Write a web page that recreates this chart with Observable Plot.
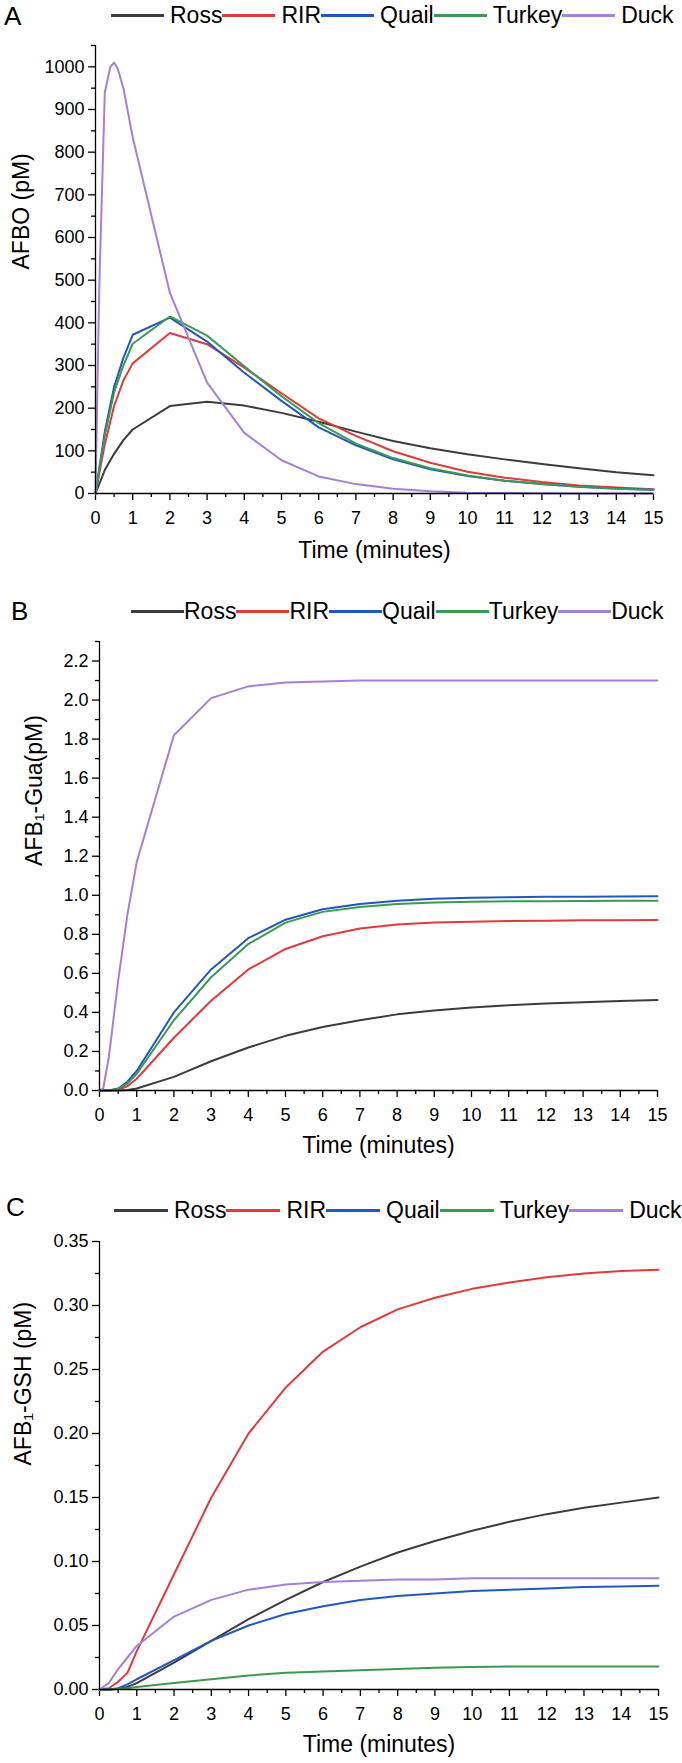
<!DOCTYPE html>
<html><head><meta charset="utf-8">
<script src="https://cdn.jsdelivr.net/npm/d3@7"></script>
<script src="https://cdn.jsdelivr.net/npm/@observablehq/plot@0.6"></script>
<style>
body{margin:0;background:#fff;font-family:"Liberation Sans",Arial,sans-serif;color:#000;}
#root{position:relative;width:682px;height:1763px;overflow:hidden;background:#fff;}
.panel{position:absolute;left:0;}
.letter{position:absolute;font-size:26px;line-height:1;}
.legend{position:absolute;display:flex;align-items:center;height:23px;font-size:23px;line-height:1;white-space:nowrap;}
.legend .sw{display:inline-block;height:2.2px;}
</style></head><body><div id="root"></div>
<script>
const series = ["Ross", "RIR", "Quail", "Turkey", "Duck"];
const colors = ["#3c3c3c", "#e03a3a", "#1f58c2", "#3b9a4f", "#a57fd8"];

const time = [0, 0.1, 0.25, 0.4, 0.5, 0.6, 0.75, 1, 2, 3, 4, 5, 6, 7, 8, 9, 10, 11, 12, 13, 14, 15];

// Panel A: AFBO (pM)
const rossA   = [0, null, 55, null, 93, null, 125, 150, 205, 215, 206, 189, 168, 145, 123, 106, 92, 80, 69, 59, 50, 43];
const rirA    = [0, null, 115, null, 205, null, 265, 305, 376, 350, 295, 235, 176, 135, 99, 72, 51, 37, 27, 19, 14, 10];
const quailA  = [0, null, 145, null, 250, null, 318, 372, 412, 356, 283, 217, 155, 113, 80, 57, 41, 30, 22, 16, 12, 9];
const turkeyA = [0, null, 135, null, 237, null, 300, 351, 415, 370, 298, 228, 165, 117, 83, 59, 42, 30, 22, 16, 11, 8];
const duckA   = [0, 480, 940, 1000, 1010, 995, 950, 835, 470, 260, 142, 78, 40, 22, 11, 5, 2, 1, 0.5, 0, 0, 0];

// Panel B: AFB1-Gua (pM)
const rossB   = [0, null, 0, null, 0, null, 0.003, 0.01, 0.07, 0.15, 0.22, 0.28, 0.325, 0.36, 0.39, 0.41, 0.425, 0.437, 0.446, 0.452, 0.458, 0.463];
const rirB    = [0, null, 0, null, 0.004, null, 0.022, 0.06, 0.27, 0.46, 0.62, 0.725, 0.79, 0.83, 0.85, 0.86, 0.865, 0.868, 0.87, 0.872, 0.872, 0.873];
const quailB  = [0, null, 0, null, 0.01, null, 0.045, 0.10, 0.40, 0.62, 0.78, 0.875, 0.928, 0.955, 0.972, 0.982, 0.987, 0.99, 0.992, 0.993, 0.994, 0.995];
const turkeyB = [0, null, 0, null, 0.008, null, 0.035, 0.085, 0.36, 0.58, 0.75, 0.86, 0.915, 0.94, 0.955, 0.963, 0.967, 0.969, 0.97, 0.971, 0.972, 0.972];
const duckB   = [0, 0.01, 0.17, null, 0.56, null, 0.90, 1.17, 1.82, 2.01, 2.07, 2.09, 2.095, 2.1, 2.1, 2.1, 2.1, 2.1, 2.1, 2.1, 2.1, 2.1];

// Panel C: AFB1-GSH (pM)
const rossC   = [0, null, 0, null, 0.0005, null, 0.002, 0.005, 0.021, 0.038, 0.055, 0.07, 0.084, 0.096, 0.107, 0.116, 0.124, 0.131, 0.137, 0.142, 0.146, 0.15];
const rirC    = [0, null, 0.001, null, 0.006, null, 0.013, 0.03, 0.09, 0.15, 0.20, 0.236, 0.264, 0.283, 0.297, 0.306, 0.313, 0.318, 0.322, 0.325, 0.327, 0.328];
const quailC  = [0, null, 0, null, 0.001, null, 0.004, 0.008, 0.023, 0.038, 0.05, 0.059, 0.065, 0.07, 0.073, 0.075, 0.077, 0.078, 0.079, 0.080, 0.0805, 0.081];
const turkeyC = [0, null, 0, null, 0.0003, null, 0.001, 0.002, 0.005, 0.008, 0.011, 0.013, 0.014, 0.015, 0.016, 0.017, 0.0175, 0.018, 0.018, 0.018, 0.018, 0.018];
const duckC   = [0, null, 0.005, null, 0.016, null, 0.025, 0.034, 0.057, 0.07, 0.078, 0.082, 0.084, 0.085, 0.086, 0.086, 0.087, 0.087, 0.087, 0.087, 0.087, 0.087];

// Ticks
const xTicks = [0, 1, 2, 3, 4, 5, 6, 7, 8, 9, 10, 11, 12, 13, 14, 15];
const xMinor = [0.5, 1.5, 2.5, 3.5, 4.5, 5.5, 6.5, 7.5, 8.5, 9.5, 10.5, 11.5, 12.5, 13.5, 14.5];
const yTicksA = [0, 100, 200, 300, 400, 500, 600, 700, 800, 900, 1000];
const yMinorA = [50, 150, 250, 350, 450, 550, 650, 750, 850, 950, 1050];
const yTicksB = [0, 0.2, 0.4, 0.6, 0.8, 1.0, 1.2, 1.4, 1.6, 1.8, 2.0, 2.2];
const yMinorB = [0.1, 0.3, 0.5, 0.7, 0.9, 1.1, 1.3, 1.5, 1.7, 1.9, 2.1, 2.3];
const yTicksC = [0, 0.05, 0.10, 0.15, 0.20, 0.25, 0.30, 0.35];
const yMinorC = [0.025, 0.075, 0.125, 0.175, 0.225, 0.275, 0.325];

const xTitle = "Time (minutes)";
const yTitleA = "AFBO (pM)";
const yTitleB = "AFB\u2081-Gua(pM)";
const yTitleC = "AFB\u2081-GSH (pM)";

function rows(vals) {
  const out = [];
  vals.forEach((arr, i) => arr.forEach((v, j) => {
    if (v != null) out.push({t: time[j], v, s: series[i]});
  }));
  return out;
}

function panel(o) {
  return Plot.plot({
    width: 682, height: o.height,
    marginTop: o.mt, marginBottom: o.mb, marginLeft: o.ml, marginRight: o.mr,
    style: {fontFamily: "'Liberation Sans', Arial, sans-serif", fontSize: "18px", color: "#000", background: "transparent", overflow: "visible"},
    x: {domain: [0, 15], label: null},
    y: {domain: o.yDomain, label: null},
    color: {domain: series, range: colors},
    marks: [
      Plot.axisX(xMinor, {tickSize: 4, tickFormat: () => "", strokeWidth: 1.3, label: null}),
      Plot.axisX(xTicks, {tickSize: 7, tickPadding: 11, tickFormat: d => String(d), strokeWidth: 1.3, label: null}),
      Plot.axisY(o.yMinor, {tickSize: 4, tickFormat: () => "", strokeWidth: 1.3, label: null}),
      Plot.axisY(o.yTicks, {tickSize: 7, tickPadding: 4, tickFormat: o.yFormat, strokeWidth: 1.3, label: null}),
      Plot.line(o.data, {x: "t", y: "v", z: "s", stroke: "s", strokeWidth: 2}),
      Plot.ruleX([0], {strokeWidth: 1.3}),
      Plot.ruleY([o.yDomain[0]], {strokeWidth: 1.3}),
      Plot.text([xTitle], {frameAnchor: "bottom", dy: o.titleDy, fontSize: 23}),
      Plot.text([o.yTitle], {frameAnchor: "left", rotate: -90, dx: o.titleDx, fontSize: 23})
    ]
  });
}

const root = document.getElementById("root");

function place(el, top) {
  el.classList.add("panel");
  el.style.top = top + "px";
  root.appendChild(el);
}

place(panel({
  data: rows([rossA, rirA, quailA, turkeyA, duckA]),
  yDomain: [0, 1050], yTicks: yTicksA, yMinor: yMinorA, yFormat: d => String(d),
  yTitle: yTitleA, titleDx: -74, titleDy: 64,
  height: 580, mt: 45, mb: 87, ml: 95, mr: 29
}), 0);

place(panel({
  data: rows([rossB, rirB, quailB, turkeyB, duckB]),
  yDomain: [0, 2.3], yTicks: yTicksB, yMinor: yMinorB, yFormat: d3.format(".1f"),
  yTitle: yTitleB, titleDx: -65, titleDy: 62,
  height: 580, mt: 61, mb: 70, ml: 99, mr: 25
}), 580);

place(panel({
  data: rows([rossC, rirC, quailC, turkeyC, duckC]),
  yDomain: [0, 0.35], yTicks: yTicksC, yMinor: yMinorC, yFormat: d3.format(".2f"),
  yTitle: yTitleC, titleDx: -76, titleDy: 62,
  height: 603, mt: 81, mb: 74, ml: 99, mr: 24
}), 1160);

// Panel letters
const letters = [["A", 4, 3], ["B", 11, 598], ["C", 6, 1194]];
letters.forEach(([t, left, top]) => {
  const d = document.createElement("div");
  d.className = "letter";
  d.style.left = left + "px";
  d.style.top = top + "px";
  d.textContent = t;
  root.appendChild(d);
});

// Legends
function legend(left, top, lineLen, gap) {
  const d = document.createElement("div");
  d.className = "legend";
  d.style.left = left + "px";
  d.style.top = top + "px";
  series.forEach((s, i) => {
    const sw = document.createElement("span");
    sw.className = "sw";
    sw.style.width = lineLen + "px";
    sw.style.background = colors[i];
    sw.style.marginRight = gap + "px";
    const tx = document.createElement("span");
    tx.textContent = s;
    d.appendChild(sw);
    d.appendChild(tx);
  });
  root.appendChild(d);
}
legend(111, 4, 53, 6);
legend(131, 600, 53, 0);
legend(114, 1199, 54, 6);
</script></body></html>
